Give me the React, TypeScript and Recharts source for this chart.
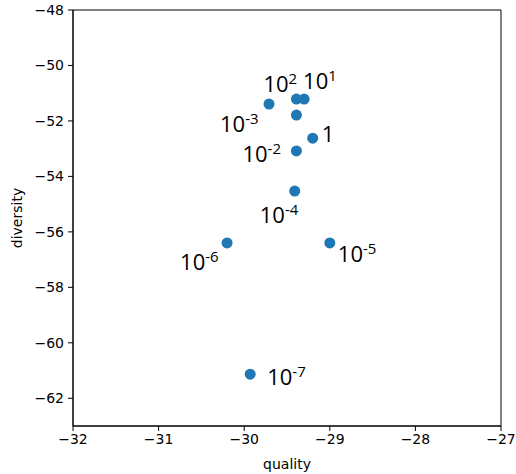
import { ScatterChart, Scatter, XAxis, YAxis, ReferenceArea } from 'recharts';

// label exponent for each point ('' = no label, '0' = plain "1")
const exponents = ['-7', '-6', '-5', '-4', '-3', '-2', '', '0', '1', '2'];
const quality = [-29.93, -30.2, -29.0, -29.41, -29.71, -29.39, -29.39, -29.2, -29.3, -29.39];
const diversity = [-61.13, -56.4, -56.4, -54.53, -51.39, -53.08, -51.79, -52.62, -51.21, -51.21];

const xTicks = [-32, -31, -30, -29, -28, -27];
const yTicks = [-62, -60, -58, -56, -54, -52, -50, -48];

const data = exponents.map((e, i) => ({ exp: e, quality: quality[i], diversity: diversity[i] }));

// where each annotation sits relative to its dot (text start, baseline)
const labelOffsets: Record<string, [number, number]> = {
  '-7': [17, 11],
  '-6': [-47, 27],
  '-5': [8, 19],
  '-4': [-35, 32],
  '-3': [-49, 28],
  '-2': [-54, 11],
  '0': [9, 4],
  '1': [-1, -10],
  '2': [-33, -7],
};

const fmt = (v: number) => String(v).replace('-', '\u2212');
const tickStyle = { fontSize: 14, fill: '#000', fontFamily: 'DejaVu Sans' };

const Dot = (props: any) => {
  const { cx, cy, payload } = props;
  const exp: string = payload.exp;
  const off = labelOffsets[exp];
  return (
    <g>
      <circle cx={cx} cy={cy} r={5.5} fill="#1f77b4" />
      {off && (
        <text
          x={cx + off[0]}
          y={cy + off[1]}
          fontFamily="Open Sans"
          fontSize={22}
          fill="#000"
        >
          {exp === '0' ? (
            '1'
          ) : (
            <>
              10
              <tspan fontSize={15} dy={-8}>
                {exp}
              </tspan>
            </>
          )}
        </text>
      )}
    </g>
  );
};

export default function App() {
  return (
    <div style={{ width: 516, height: 474 }}>
      <style>{'body{margin:0;overflow:hidden}'}</style>
      <ScatterChart width={516} height={474} margin={{ top: 10, right: 15, bottom: 0, left: 8 }}>
        <XAxis
          type="number"
          dataKey="quality"
          domain={[-32, -27]}
          ticks={xTicks}
          tickFormatter={fmt}
          tick={tickStyle}
          tickSize={5}
          tickMargin={3}
          height={48}
          stroke="#000"
          allowDataOverflow
          label={{
            content: ({ viewBox }: any) => (
              <text
                x={viewBox.x + viewBox.width / 2}
                y={469}
                textAnchor="middle"
                fontSize={14}
                fontFamily="DejaVu Sans"
                fill="#000"
              >
                quality
              </text>
            ),
          }}
        />
        <YAxis
          type="number"
          dataKey="diversity"
          domain={[-63, -48]}
          ticks={yTicks}
          tickFormatter={fmt}
          tick={tickStyle}
          tickSize={5}
          tickMargin={4}
          width={65}
          stroke="#000"
          allowDataOverflow
          label={{
            content: ({ viewBox }: any) => {
              const cy = viewBox.y + viewBox.height / 2;
              return (
                <text
                  x={22}
                  y={cy}
                  transform={`rotate(-90, 22, ${cy})`}
                  textAnchor="middle"
                  fontSize={14}
                  fontFamily="DejaVu Sans"
                  fill="#000"
                >
                  diversity
                </text>
              );
            },
          }}
        />
        <ReferenceArea x1={-32} x2={-27} y1={-63} y2={-48} fill="none" stroke="#000" strokeWidth={1} />
        <Scatter data={data} shape={Dot} isAnimationActive={false} />
      </ScatterChart>
    </div>
  );
}
